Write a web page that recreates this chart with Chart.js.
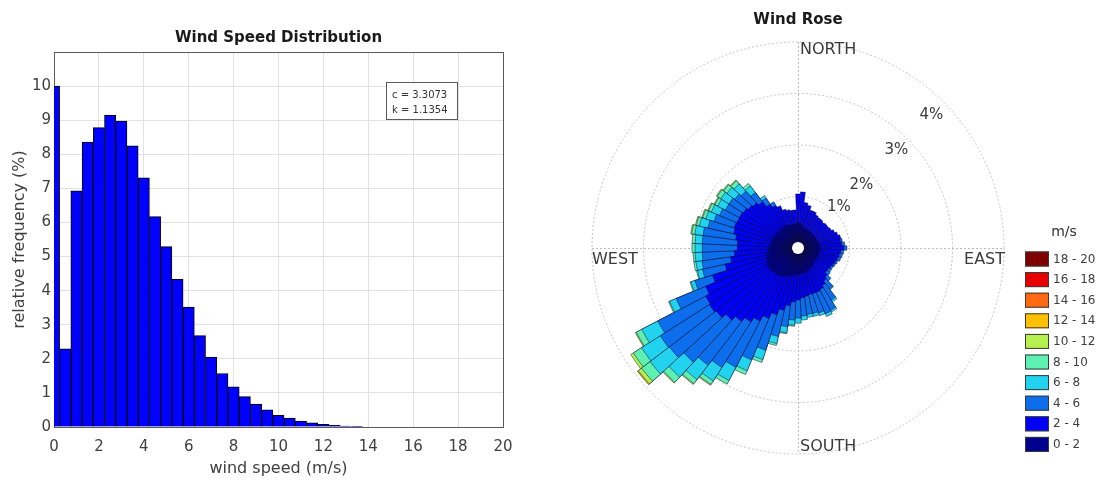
<!DOCTYPE html>
<html>
<head>
<meta charset="utf-8">
<title>Wind Speed Distribution and Wind Rose</title>
<script src="https://cdn.jsdelivr.net/npm/chart.js@4.4.0/dist/chart.umd.min.js"></script>
<style>
  html, body { margin: 0; padding: 0; background: #ffffff; }
  body { width: 1106px; height: 480px; position: relative; overflow: hidden; }
  canvas { display: block; position: absolute; top: 0; }
  #hist { left: 0; }
  #rose { left: 560px; }
</style>
</head>
<body>
<canvas id="hist" width="560" height="480"></canvas>
<canvas id="rose" width="546" height="480"></canvas>
<script>
// ---------- Wind speed histogram (0.5 m/s bins, centres in m/s) ----------
const speedBinCenters = [0, 0.5, 1, 1.5, 2, 2.5, 3, 3.5, 4, 4.5, 5, 5.5, 6, 6.5,
                         7, 7.5, 8, 8.5, 9, 9.5, 10, 10.5, 11, 11.5, 12, 12.5, 13, 13.5];
const speedFreqPct = [10.0, 2.29, 6.93, 8.36, 8.78, 9.15, 8.97, 8.25, 7.31, 6.17, 5.29, 4.33, 3.52, 2.68,
                      2.05, 1.57, 1.18, 0.89, 0.67, 0.50, 0.34, 0.26, 0.17, 0.12, 0.08, 0.05, 0.03, 0.02];
const speedAxisMax = 20;
const freqAxisMax = 11;
const weibullFit = ['c = 3.3073', 'k = 1.1354'];

// ---------- Wind rose: 72 sectors of 5 degrees, centred on the listed bearings ----------
const directionsDeg = [0, 5, 10, 15, 20, 25, 30, 35, 40, 45, 50, 55,
                       60, 65, 70, 75, 80, 85, 90, 95, 100, 105, 110, 115,
                       120, 125, 130, 135, 140, 145, 150, 155, 160, 165, 170, 175,
                       180, 185, 190, 195, 200, 205, 210, 215, 220, 225, 230, 235,
                       240, 245, 250, 255, 260, 265, 270, 275, 280, 285, 290, 295,
                       300, 305, 310, 315, 320, 325, 330, 335, 340, 345, 350, 355];
const speedClasses = ['0 - 2', '2 - 4', '4 - 6', '6 - 8', '8 - 10',
                      '10 - 12', '12 - 14', '14 - 16', '16 - 18', '18 - 20'];
const classColors = ['#00008f', '#0000f4', '#0c6eec', '#22d3f0', '#5eefb3',
                     '#b5f04f', '#ffc000', '#ff6a12', '#e80000', '#7f0000'];

// frequency (%) per sector for each speed class
const rose0to2 = [0.47,0.47,0.43,0.41,0.39,0.39,0.39,0.39,0.39,0.39,0.39,0.39,
                  0.39,0.39,0.39,0.39,0.41,0.41,0.41,0.41,0.41,0.41,0.41,0.41,
                  0.41,0.41,0.41,0.43,0.43,0.45,0.45,0.47,0.47,0.49,0.49,0.50,
                  0.50,0.52,0.54,0.56,0.58,0.60,0.62,0.64,0.66,0.66,0.68,0.68,
                  0.68,0.66,0.64,0.62,0.60,0.58,0.56,0.54,0.54,0.52,0.52,0.50,
                  0.50,0.50,0.49,0.49,0.49,0.49,0.49,0.49,0.47,0.47,0.47,0.47];
const rose2to4 = [0.58,0.62,0.46,0.44,0.38,0.38,0.34,0.32,0.32,0.30,0.32,0.32,
                  0.34,0.38,0.42,0.46,0.42,0.44,0.48,0.42,0.40,0.38,0.36,0.34,
                  0.32,0.30,0.30,0.34,0.38,0.42,0.46,0.46,0.46,0.44,0.46,0.47,
                  0.51,0.53,0.59,0.68,0.78,0.88,0.98,1.06,1.14,1.24,1.32,1.36,
                  1.34,1.28,1.10,0.83,0.72,0.66,0.62,0.64,0.68,0.76,0.78,0.78,
                  0.78,0.76,0.73,0.70,0.64,0.52,0.44,0.40,0.32,0.29,0.27,0.27];
const rose4to6 = [0,0,0,0,0,0,0,0,0,0,0,0,
                  0,0,0,0,0.04,0.06,0.06,0.06,0.06,0.06,0.04,0.04,
                  0.04,0.06,0.08,0.10,0.19,0.33,0.45,0.45,0.39,0.37,0.35,0.35,
                  0.35,0.35,0.41,0.52,0.72,0.87,1.01,1.05,1.07,1.11,1.15,1.13,
                  1.05,0.62,0.36,0.45,0.56,0.62,0.68,0.68,0.64,0.51,0.41,0.37,
                  0.31,0.33,0.33,0.31,0.23,0.14,0.08,0,0,0,0,0];
const rose6to8 = [0,0,0,0,0,0,0,0,0,0,0,0,
                  0,0,0,0,0,0,0,0,0,0,0,0,
                  0,0,0,0,0.02,0.04,0.04,0.06,0.06,0.06,0.06,0.08,
                  0.10,0.10,0.12,0.14,0.19,0.23,0.29,0.31,0.35,0.39,0.47,0.43,
                  0.35,0.14,0.08,0.10,0.12,0.14,0.14,0.14,0.16,0.17,0.17,0.17,
                  0.17,0.19,0.19,0.19,0.16,0.06,0,0,0,0,0,0];
const rose8to10 = [0,0,0,0,0,0,0,0,0,0,0,0,
                   0,0,0,0,0,0,0,0,0,0,0,0,
                   0,0,0,0,0,0,0,0,0,0,0,0,
                   0,0.02,0.02,0.04,0.06,0.08,0.08,0.08,0.10,0.14,0.21,0.19,
                   0.12,0.02,0.02,0.02,0.04,0.04,0.06,0.06,0.06,0.06,0.06,0.06,
                   0.06,0.08,0.08,0.08,0.06,0,0,0,0,0,0,0];
const rose10to12 = [0,0,0,0,0,0,0,0,0,0,0,0,
                    0,0,0,0,0,0,0,0,0,0,0,0,
                    0,0,0,0,0,0,0,0,0,0,0,0,
                    0,0,0,0,0,0,0,0.02,0.02,0.02,0.08,0.06,
                    0.02,0,0,0,0,0,0,0,0.02,0.02,0.02,0.02,
                    0.02,0.02,0.02,0.02,0,0,0,0,0,0,0,0];
const rose12to14 = [0,0,0,0,0,0,0,0,0,0,0,0,
                    0,0,0,0,0,0,0,0,0,0,0,0,
                    0,0,0,0,0,0,0,0,0,0,0,0,
                    0,0,0,0,0,0,0,0,0,0,0.02,0,
                    0,0,0,0,0,0,0,0,0,0,0,0,
                    0,0,0,0,0,0,0,0,0,0,0,0];
const rose14to16 = [0,0,0,0,0,0,0,0,0,0,0,0,
                    0,0,0,0,0,0,0,0,0,0,0,0,
                    0,0,0,0,0,0,0,0,0,0,0,0,
                    0,0,0,0,0,0,0,0,0,0,0,0,
                    0,0,0,0,0,0,0,0,0,0,0,0,
                    0,0,0,0,0,0,0,0,0,0,0,0];
const rose16to18 = [0,0,0,0,0,0,0,0,0,0,0,0,
                    0,0,0,0,0,0,0,0,0,0,0,0,
                    0,0,0,0,0,0,0,0,0,0,0,0,
                    0,0,0,0,0,0,0,0,0,0,0,0,
                    0,0,0,0,0,0,0,0,0,0,0,0,
                    0,0,0,0,0,0,0,0,0,0,0,0];
const rose18to20 = [0,0,0,0,0,0,0,0,0,0,0,0,
                    0,0,0,0,0,0,0,0,0,0,0,0,
                    0,0,0,0,0,0,0,0,0,0,0,0,
                    0,0,0,0,0,0,0,0,0,0,0,0,
                    0,0,0,0,0,0,0,0,0,0,0,0,
                    0,0,0,0,0,0,0,0,0,0,0,0];
const roseRings = [1, 2, 3, 4];
const ringLabels = ['1%', '2%', '3%', '4%'];
const compassLabels = ['NORTH', 'EAST', 'SOUTH', 'WEST'];

// ---------- shared styling ----------
Chart.defaults.font.family = "'DejaVu Sans', 'Liberation Sans', sans-serif";
Chart.defaults.color = '#404040';
const TEXT = '#404040';
const FRAME = '#5a5a5a';
const GRID = '#e2e2e2';

// ---------- histogram ----------
const fitBoxPlugin = {
  id: 'fitBox',
  afterDraw(chart) {
    const { ctx, chartArea: a } = chart;
    const w = 71, h = 37;
    const x = a.right - 117, y = a.top + 30;
    ctx.save();
    ctx.fillStyle = '#ffffff';
    ctx.fillRect(x, y, w, h);
    ctx.strokeStyle = FRAME;
    ctx.lineWidth = 1;
    ctx.strokeRect(x + 0.5, y + 0.5, w, h);
    ctx.fillStyle = '#333333';
    ctx.font = "10px 'DejaVu Sans', sans-serif";
    ctx.textAlign = 'left';
    ctx.textBaseline = 'middle';
    ctx.fillText(weibullFit[0], x + 6, y + 13);
    ctx.fillText(weibullFit[1], x + 6, y + 28);
    ctx.restore();
  }
};

new Chart(document.getElementById('hist'), {
  type: 'bar',
  data: {
    datasets: [{
      data: speedBinCenters.map((x, i) => ({ x: x, y: speedFreqPct[i] })),
      backgroundColor: '#0000ff',
      borderColor: '#000000',
      borderWidth: 1,
      borderSkipped: 'start',
      categoryPercentage: 1,
      barPercentage: 1,
      clip: 0
    }]
  },
  options: {
    responsive: false,
    animation: false,
    layout: { padding: { left: 0, right: 57, top: 0, bottom: 0 } },
    plugins: {
      legend: { display: false },
      tooltip: { enabled: false },
      title: {
        display: true,
        text: 'Wind Speed Distribution',
        color: '#1a1a1a',
        font: { size: 15, weight: 'bold' },
        padding: { top: 29, bottom: 5 },
        fullSize: false
      }
    },
    scales: {
      x: {
        type: 'linear',
        min: 0,
        max: speedAxisMax,
        offset: false,
        ticks: { stepSize: 2, padding: 11, color: TEXT, font: { size: 15 }, maxRotation: 0, autoSkip: false },
        grid: {
          offset: false,
          drawTicks: false,
          color: c => (c.tick && c.tick.value === speedAxisMax) ? FRAME : GRID
        },
        border: { color: FRAME, width: 1 },
        title: { display: true, text: 'wind speed (m/s)', color: TEXT, font: { size: 16 }, padding: { top: 0, bottom: 2 } },
        afterFit: s => { s.height = 53; }
      },
      y: {
        min: 0,
        max: freqAxisMax,
        ticks: {
          stepSize: 1, padding: 3, color: TEXT, font: { size: 15 },
          callback: v => (v === freqAxisMax ? '' : v)
        },
        grid: {
          drawTicks: false,
          color: c => (c.tick && c.tick.value === freqAxisMax) ? FRAME : GRID
        },
        border: { color: FRAME, width: 1 },
        title: { display: true, text: 'relative frequency (%)', color: TEXT, font: { size: 16 }, padding: { top: 10, bottom: 0 } },
        afterFit: s => { s.width = 54; }
      }
    }
  },
  plugins: [fitBoxPlugin]
});

// ---------- wind rose ----------
const roseClasses = [rose0to2, rose2to4, rose4to6, rose6to8, rose8to10,
                     rose10to12, rose12to14, rose14to16, rose16to18, rose18to20];
// stacked outer edge of each class = sum of that class and all slower ones
const roseStacked = roseClasses.map((_, k) =>
  directionsDeg.map((_, i) => roseClasses.slice(0, k + 1).reduce((s, arr) => s + arr[i], 0)));

const roseDecor = {
  id: 'roseDecor',
  beforeDatasetsDraw(chart) {
    const r = chart.scales.r, ctx = chart.ctx;
    const R = r.getDistanceFromCenterForValue(r.max);
    ctx.save();
    ctx.strokeStyle = '#bdbdbd';
    ctx.lineWidth = 1;
    ctx.setLineDash([2, 2]);
    ctx.beginPath();
    ctx.moveTo(r.xCenter - R, r.yCenter + 0.5);
    ctx.lineTo(r.xCenter + R, r.yCenter + 0.5);
    ctx.moveTo(r.xCenter + 0.5, r.yCenter - R);
    ctx.lineTo(r.xCenter + 0.5, r.yCenter + R);
    ctx.stroke();
    ctx.restore();
  },
  afterDatasetsDraw(chart) {
    const r = chart.scales.r, ctx = chart.ctx;
    const xc = r.xCenter, yc = r.yCenter;
    const R = r.getDistanceFromCenterForValue(r.max);
    ctx.save();
    // calm circle in the middle
    ctx.beginPath();
    ctx.arc(xc, yc, 6, 0, Math.PI * 2);
    ctx.fillStyle = '#ffffff';
    ctx.fill();

    // compass words
    ctx.fillStyle = '#3a3a3a';
    ctx.font = "16px 'DejaVu Sans', sans-serif";
    ctx.textBaseline = 'middle';
    ctx.textAlign = 'left';
    ctx.fillText(compassLabels[0], xc + 2, yc - R + 8);
    ctx.fillText(compassLabels[2], xc + 2, yc + R - 7);
    ctx.fillText(compassLabels[3], xc - R, yc + 12);
    ctx.textAlign = 'right';
    ctx.fillText(compassLabels[1], xc + R + 1, yc + 12);

    // ring percentages along the north-east diagonal, just inside each ring
    const labelAt = [1.12, 1.74, 2.70, 3.66];
    ctx.font = "15px 'DejaVu Sans', sans-serif";
    ctx.textAlign = 'center';
    ringLabels.forEach((t, i) => {
      const d = r.getDistanceFromCenterForValue(labelAt[i]);
      ctx.fillText(t, xc + d * Math.SQRT1_2, yc - d * Math.SQRT1_2);
    });
    ctx.restore();
  },
  afterDraw(chart) {
    const ctx = chart.ctx, a = chart.chartArea;
    const boxX = a.right + 21, firstY = 259, step = 20.6;
    ctx.save();
    ctx.fillStyle = '#333333';
    ctx.font = "14px 'DejaVu Sans', sans-serif";
    ctx.textAlign = 'center';
    ctx.textBaseline = 'middle';
    ctx.fillText('m/s', boxX + 39, 232);
    ctx.font = "12px 'DejaVu Sans', sans-serif";
    ctx.textAlign = 'left';
    for (let n = 0; n < speedClasses.length; n++) {
      const k = speedClasses.length - 1 - n;
      const y = firstY + n * step;
      ctx.fillStyle = classColors[k];
      ctx.fillRect(boxX, y - 7.5, 24, 15);
      ctx.strokeStyle = '#3a3a3a';
      ctx.lineWidth = 1;
      ctx.strokeRect(boxX + 0.5, y - 7, 23, 14);
      ctx.fillStyle = '#404040';
      ctx.fillText(speedClasses[k], boxX + 28, y + 0.5);
    }
    ctx.restore();
  }
};

new Chart(document.getElementById('rose'), {
  type: 'polarArea',
  data: {
    labels: directionsDeg.map(d => d + '°'),
    datasets: roseStacked.map((vals, k) => ({
      label: speedClasses[k] + ' m/s',
      data: vals,
      backgroundColor: c => roseClasses[k][c.dataIndex] > 0 ? classColors[k] : 'rgba(0,0,0,0)',
      borderColor: '#0d0d2a',
      borderWidth: c => roseClasses[k][c.dataIndex] > 0 ? 0.5 : 0
    }))
  },
  options: {
    responsive: false,
    animation: false,
    layout: { padding: { left: 32, right: 102, top: 0, bottom: 26 } },
    plugins: {
      legend: { display: false },
      tooltip: { enabled: false },
      title: {
        display: true,
        text: 'Wind Rose',
        color: '#1a1a1a',
        font: { size: 15, weight: 'bold' },
        padding: { top: 11, bottom: 13 },
        fullSize: false
      }
    },
    scales: {
      r: {
        min: 0,
        max: roseRings[roseRings.length - 1],
        startAngle: -2.5,
        ticks: { display: false, stepSize: 1 },
        grid: { circular: true, color: '#c4c4c4', lineWidth: 1 },
        border: { dash: [2, 2] },
        angleLines: { display: false },
        pointLabels: { display: false }
      }
    }
  },
  plugins: [roseDecor]
});
</script>
</body>
</html>
